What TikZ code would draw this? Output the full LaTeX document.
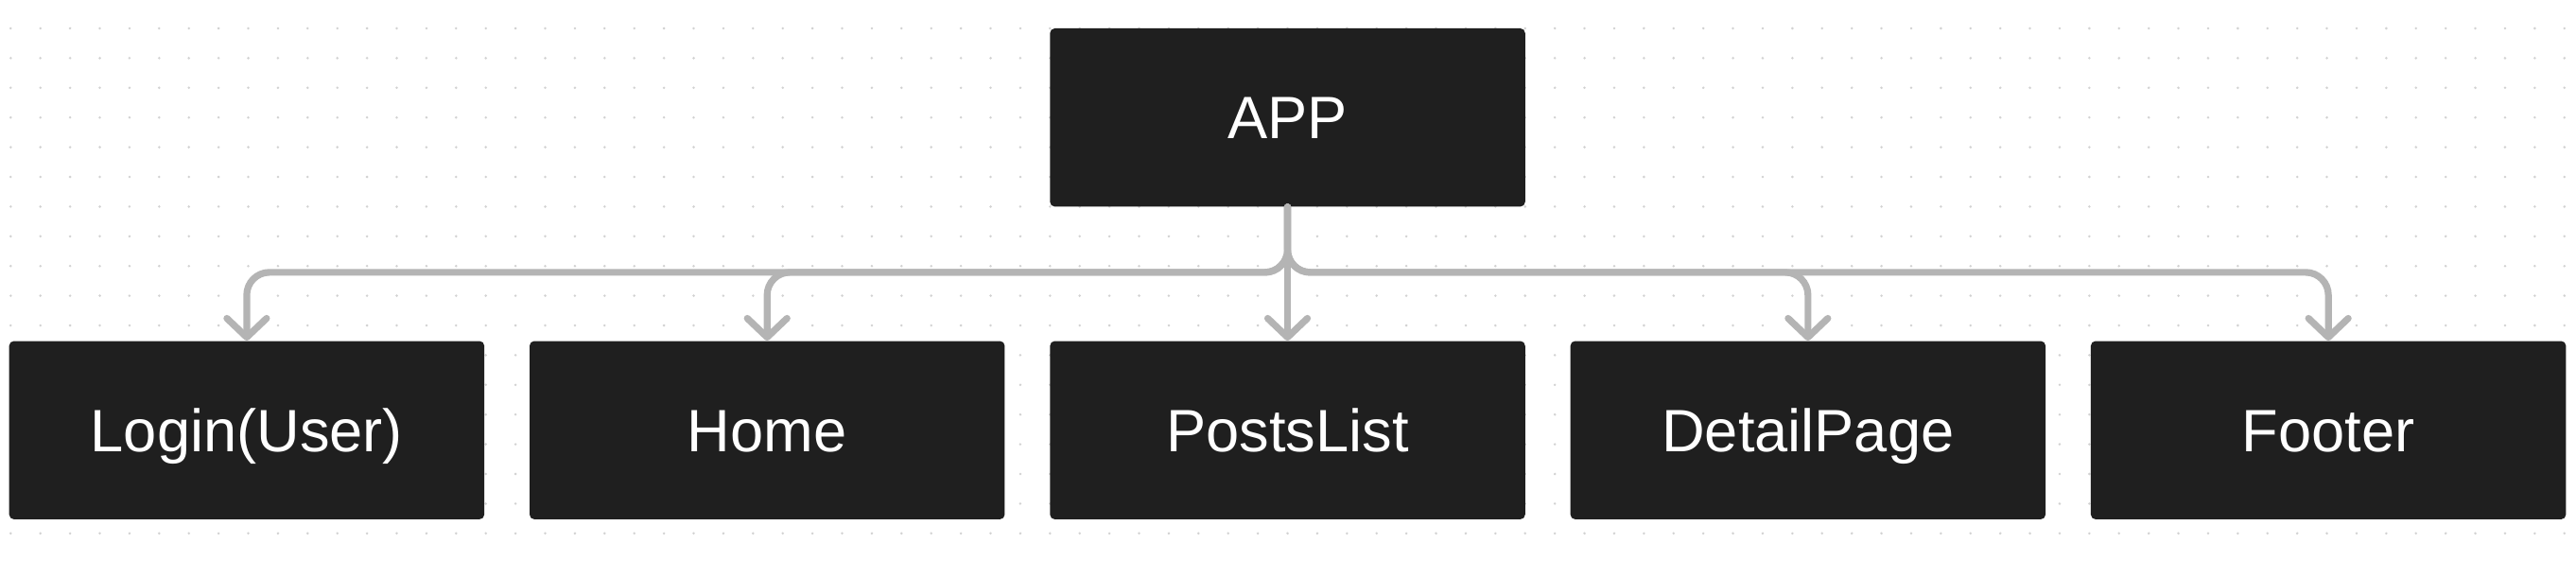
\documentclass[tikz,border=0pt]{standalone}
\usepackage{fontspec}
\setmainfont{Liberation Sans}
\usetikzlibrary{arrows.meta,positioning}
\definecolor{boxfill}{HTML}{1F1F1F}
\definecolor{wire}{HTML}{B4B4B4}
\definecolor{griddot}{HTML}{D2D2D2}
\tikzset{
  block/.style = {fill=boxfill, text=white, rounded corners=2.5pt,
                  minimum width=251.2pt, minimum height=94.2pt, inner sep=0pt,
                  text height=22.6pt, text depth=0pt,
                  font=\fontsize{31.6}{36}\selectfont},
  post/.style  = {-{Straight Barb[length=10pt, width=21pt, round]}, draw=wire,
                  line width=3.6pt, line cap=round, rounded corners=12pt},
  drop/.style  = {to path={-- ++(0,-2.2) -| (\tikztotarget)}}
}

\begin{document}
\begin{tikzpicture}[x=15.7pt, y=15.7pt, node distance=70.65pt and 23.55pt]
    \fill[white] (-0.36,-17.9) rectangle (86.39,0.955);
    \useasboundingbox (-0.36,-17.9) rectangle (86.39,0.955);
    \foreach \i in {0,...,86}
      \foreach \j in {0,...,17}
        \fill[griddot] (\i,-\j) circle (0.7pt);

    \node[block] (app)                      at (43,-3) {APP};
    \node[block] (posts)  [below=of app]    {PostsList};
    \node[block] (home)   [left=of posts]   {Home};
    \node[block] (login)  [left=of home]    {Login(User)};
    \node[block] (detail) [right=of posts]  {DetailPage};
    \node[block] (footer) [right=of detail] {Footer};

    \draw[post] (app.south) to[drop] (login.north);
    \draw[post] (app.south) to[drop] (home.north);
    \draw[post] (app.south) --       (posts.north);
    \draw[post] (app.south) to[drop] (detail.north);
    \draw[post] (app.south) to[drop] (footer.north);
  \end{tikzpicture}
\end{document}
